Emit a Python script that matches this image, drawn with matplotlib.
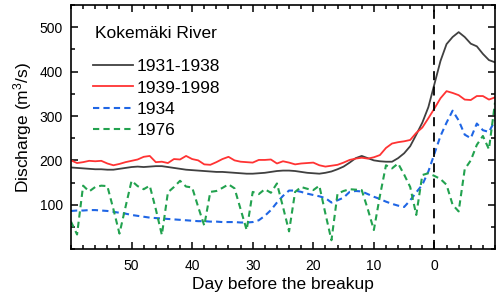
import numpy as np
import matplotlib
matplotlib.use("Agg")
import matplotlib.pyplot as plt
from matplotlib.ticker import MultipleLocator

plt.rcParams['font.family'] = ['Liberation Sans', 'DejaVu Sans']
plt.rcParams['mathtext.default'] = 'regular'

# Tage vor dem Eisaufbruch (60 ... -10)
days = np.arange(60, -11, -1)

q_1931_1938 = [184, 183, 182, 181, 180, 180, 179, 179, 181, 183,
               185, 186, 185, 186, 187, 187, 185, 183, 181, 179,
               178, 177, 176, 175, 174, 174, 173, 172, 171, 170,
               170, 171, 172, 174, 176, 177, 177, 176, 174, 172,
               171, 170, 172, 175, 180, 186, 195, 205, 210, 205,
               200, 198, 197, 197, 205, 216, 232, 258, 285, 320,
               372, 424, 462, 478, 489, 478, 463, 457, 440, 426, 421]

q_1939_1998 = [200, 194, 196, 199, 198, 199, 193, 189, 192, 196,
               199, 202, 208, 210, 196, 197, 194, 203, 202, 210,
               203, 200, 191, 190, 196, 203, 208, 200, 197, 196,
               195, 201, 201, 202, 193, 198, 195, 191, 193, 194,
               195, 189, 186, 188, 190, 195, 201, 204, 206, 204,
               207, 212, 228, 238, 241, 243, 246, 262, 274, 295,
               317, 340, 356, 352, 347, 337, 336, 345, 345, 337, 342]

q_1934 = [86, 87, 87, 88, 88, 87, 86, 84, 82, 80,
          77, 75, 73, 71, 70, 69, 68, 67, 66, 65,
          64, 63, 63, 62, 62, 61, 61, 61, 60, 60,
          61, 65, 75, 88, 105, 120, 132, 132, 129, 125,
          122, 119, 115, 105, 110, 116, 129, 131, 130, 124,
          118, 113, 107, 102, 98, 95, 110, 128, 145, 175,
          215, 255, 285, 312, 290, 258, 250, 283, 268, 264, 290]

q_1976 = [62, 33, 143, 130, 140, 143, 142, 90, 35, 95,
          154, 142, 135, 143, 90, 32, 128, 140, 154, 141,
          139, 95, 53, 129, 131, 138, 146, 137, 90, 43,
          129, 124, 135, 127, 148, 95, 40, 129, 140, 136,
          133, 143, 80, 20, 125, 131, 135, 134, 133, 90,
          43, 120, 189, 182, 193, 168, 140, 77, 167, 171,
          165, 158, 145, 100, 85, 180, 200, 235, 255, 225, 330]

fig, ax = plt.subplots(figsize=(5, 2.98), dpi=100)
fig.subplots_adjust(left=0.142, right=0.99, bottom=0.164, top=0.983)

ax.plot(days, q_1931_1938, color='#404040', lw=1.3, label='1931-1938')
ax.plot(days, q_1939_1998, color='#ff3333', lw=1.3, label='1939-1998')
ax.plot(days, q_1934, color='#1f66e5', lw=1.5, ls=(0, (3, 2)), label='1934')
ax.plot(days, q_1976, color='#22a24f', lw=1.5, ls=(0, (3, 2)), label='1976')
ax.axvline(0, color='black', lw=1.3, ls=(0, (5, 3.5)))

ax.set_xlim(60, -10)
ax.set_ylim(0, 550)
ax.xaxis.set_minor_locator(MultipleLocator(2))
ax.yaxis.set_minor_locator(MultipleLocator(50))
ax.set_yticks([100, 200, 300, 400, 500])
ax.set_xticks([50, 40, 30, 20, 10, 0])
ax.tick_params(which='both', direction='in', top=True, right=True, width=1.1, labelsize=10)
ax.tick_params(which='major', length=5)
ax.tick_params(which='minor', length=3)
ax.tick_params(axis='x', pad=7)
ax.tick_params(axis='y', pad=6)
for s in ax.spines.values():
    s.set_linewidth(1.2)

ax.set_xlabel('Day before the breakup', fontsize=12.5, labelpad=3)
ax.set_ylabel('Discharge (m$^3$/s)', fontsize=12.5, labelpad=4)

# Titel der Legende separat, damit der Abstand wie im Original passt
fig.text(95 / 500, 1 - 33 / 298, 'Kokemäki River', fontsize=12.5, va='center', ha='left')
ax.legend(loc='upper left', bbox_to_anchor=(93 / 500, 1 - 59 / 298),
          bbox_transform=fig.transFigure, frameon=False,
          fontsize=12.5, handlelength=2.3, handletextpad=0.2,
          labelspacing=0.36, borderpad=0, borderaxespad=0)

fig.savefig('out.png', dpi=100)
